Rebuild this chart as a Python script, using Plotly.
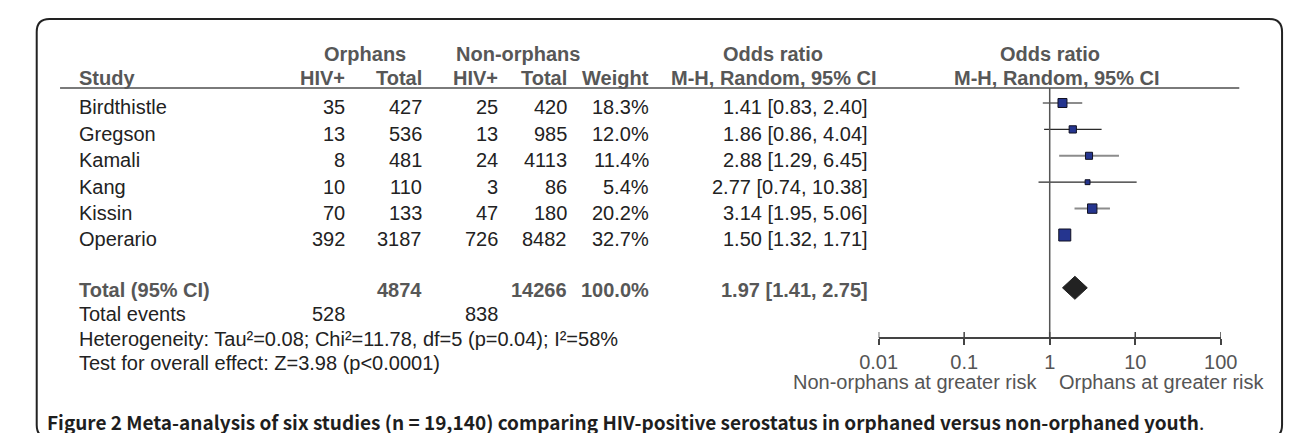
import plotly.graph_objects as go

W, H = 1293, 433

# ---------------- data ----------------
studies = ["Birdthistle", "Gregson", "Kamali", "Kang", "Kissin", "Operario"]
orph_hiv = [35, 13, 8, 10, 70, 392]
orph_total = [427, 536, 481, 110, 133, 3187]
non_hiv = [25, 13, 24, 3, 47, 726]
non_total = [420, 985, 4113, 86, 180, 8482]
weights = [18.3, 12.0, 11.4, 5.4, 20.2, 32.7]
odds = [1.41, 1.86, 2.88, 2.77, 3.14, 1.50]
ci_low = [0.83, 0.86, 1.29, 0.74, 1.95, 1.32]
ci_high = [2.40, 4.04, 6.45, 10.38, 5.06, 1.71]

pooled_or = 1.97
pooled_low = 1.41
pooled_high = 2.75
total_orph = 4874
total_non = 14266
total_weight = 100.0
events_orph = 528
events_non = 838
heterogeneity_text = "Heterogeneity: Tau²=0.08; Chi²=11.78, df=5 (p=0.04); I²=58%"
overall_text = "Test for overall effect: Z=3.98 (p<0.0001)"
axis_ticks = [0.01, 0.1, 1, 10, 100]
axis_tick_labels = ["0.01", "0.1", "1", "10", "100"]
left_side_label = "Non-orphans at greater risk"
right_side_label = "Orphans at greater risk"
caption_text = ("Figure 2 Meta-analysis of six studies (n = 19,140) comparing "
                "HIV-positive serostatus in orphaned versus non-orphaned youth")

# ---------------- layout helpers ----------------
ROW0 = 95.0      # pixel y of first study row (marker centre)
ROWH = 26.4      # pixel height of a row
TXT_OFF = 0.17   # text offset (rows) relative to markers
TOTAL_ROW = 7

FONT = "Liberation Sans, Arial, Helvetica, sans-serif"
HDR = "#575757"
BODY = "#222222"
FS = 20


def px(x):
    return x / W


def py(y):
    return 1 - y / H


annotations = []


def txt(x, y, text, anchor="right", color=BODY, size=FS, yref="y", family=FONT):
    annotations.append(dict(
        x=px(x), xref="paper", y=y if yref == "y" else py(y), yref=yref,
        text=text, showarrow=False, xanchor=anchor, yanchor="middle",
        font=dict(family=family, size=size, color=color), borderpad=0))


# column right edges (pixels)
C_STUDY = 52
C_OH, C_OT, C_NH, C_NT, C_W, C_CI = 328, 407, 486, 557, 641, 866

# header
txt(348, 46, "<b>Orphans</b>", "center", HDR, yref="paper")
txt(505, 46, "<b>Non-orphans</b>", "center", HDR, yref="paper")
txt(767, 46, "<b>Odds ratio</b>", "center", HDR, yref="paper")
txt(1052, 46, "<b>Odds ratio</b>", "center", HDR, yref="paper")
txt(C_STUDY, 70, "<b>Study</b>", "left", HDR, yref="paper")
txt(C_OH, 70, "<b>HIV+</b>", "right", HDR, yref="paper")
txt(C_OT, 70, "<b>Total</b>", "right", HDR, yref="paper")
txt(C_NH, 70, "<b>HIV+</b>", "right", HDR, yref="paper")
txt(C_NT, 70, "<b>Total</b>", "right", HDR, yref="paper")
txt(C_W, 70, "<b>Weight</b>", "right", HDR, yref="paper")
txt(875, 70, "<b>M-H, Random, 95% CI</b>", "right", HDR, yref="paper")
txt(1060, 70, "<b>M-H, Random, 95% CI</b>", "center", HDR, yref="paper")

# study rows
rows = list(range(len(studies)))
for i, s in enumerate(studies):
    y = i + TXT_OFF
    txt(C_STUDY, y, s, "left")
    txt(C_OH, y, str(orph_hiv[i]))
    txt(C_OT, y, str(orph_total[i]))
    txt(C_NH, y, str(non_hiv[i]))
    txt(C_NT, y, str(non_total[i]))
    txt(C_W, y, f"{weights[i]:.1f}%")
    txt(C_CI, y, f"{odds[i]:.2f} [{ci_low[i]:.2f}, {ci_high[i]:.2f}]")

# total row
yt = TOTAL_ROW + 0.08
txt(C_STUDY, yt, "<b>Total (95% CI)</b>", "left", HDR)
txt(C_OT, yt, f"<b>{total_orph}</b>", "right", HDR)
txt(C_NT, yt, f"<b>{total_non}</b>", "right", HDR)
txt(C_W, yt, f"<b>{total_weight:.1f}%</b>", "right", HDR)
txt(C_CI, yt, f"<b>{pooled_or:.2f} [{pooled_low:.2f}, {pooled_high:.2f}]</b>", "right", HDR)

# footer lines
txt(C_STUDY, 306, "Total events", "left", BODY, yref="paper")
txt(C_OH, 306, str(events_orph), "right", BODY, yref="paper")
txt(C_NH, 306, str(events_non), "right", BODY, yref="paper")
txt(C_STUDY, 331, heterogeneity_text, "left", BODY, yref="paper")
txt(C_STUDY, 355, overall_text, "left", BODY, yref="paper")

# favour labels
txt(1040, 374, left_side_label, "right", "#555555", yref="paper")
txt(1061, 374, right_side_label, "left", "#555555", yref="paper")

# caption
txt(20, 413, "<b>" + caption_text + "</b>.", "left", "#1e1e1e", size=19,
    yref="paper", family="Noto Sans CJK KR, Noto Sans, sans-serif")

# ---------------- traces ----------------
fig = go.Figure()

# CI lines (rendered alternately light / dark as in the source raster)
for parity, col, wid in [(0, "#8c8c8c", 2), (1, "#2a2a2a", 1.2)]:
    xs, ys = [], []
    for i in rows:
        if i % 2 == parity:
            xs += [ci_low[i], ci_high[i], None]
            ys += [i, i, None]
    fig.add_trace(go.Scatter(x=xs, y=ys, mode="lines",
                             line=dict(color=col, width=wid),
                             hoverinfo="skip"))

max_w = max(weights)
sizes = [12 * (w / max_w) ** 0.5 for w in weights]
fig.add_trace(go.Scatter(
    x=odds, y=rows, mode="markers",
    marker=dict(symbol="square", size=sizes, color="#25358f", opacity=1,
                line=dict(color="#111122", width=1)),
    hoverinfo="skip"))

dh = 11.5 / ROWH
fig.add_trace(go.Scatter(
    x=[pooled_low, pooled_or, pooled_high, pooled_or, pooled_low],
    y=[TOTAL_ROW, TOTAL_ROW - dh, TOTAL_ROW, TOTAL_ROW + dh, TOTAL_ROW],
    mode="lines", fill="toself", fillcolor="#222222",
    line=dict(color="#222222", width=1), hoverinfo="skip"))

# ---------------- shapes ----------------
AX_Y = 330
shapes = []
# header rule
shapes.append(dict(type="line", xref="paper", yref="paper",
                   x0=px(34), x1=px(1247), y0=py(80), y1=py(80),
                   line=dict(color="#7a7a7a", width=2)))
# line of no effect
shapes.append(dict(type="line", xref="x", yref="paper", x0=1, x1=1,
                   y0=py(80), y1=py(AX_Y), line=dict(color="#555555", width=1.5)))
# upper halves of the axis ticks
for t in axis_ticks:
    shapes.append(dict(type="line", xref="x", yref="paper", x0=t, x1=t,
                       y0=py(AX_Y), y1=py(AX_Y - 6),
                       line=dict(color="#444444", width=1.5)))

# rounded frame
x0, y0, x1, y1, r = 10, 11, 1291, 430, 13
pts = [
    ("M", x0 + r, y0), ("L", x1 - r, y0), ("Q", x1, y0, x1, y0 + r),
    ("L", x1, y1 - r), ("Q", x1, y1, x1 - r, y1), ("L", x0 + r, y1),
    ("Q", x0, y1, x0, y1 - r), ("L", x0, y0 + r), ("Q", x0, y0, x0 + r, y0),
]
path = ""
for p in pts:
    cmd = p[0]
    coords = p[1:]
    seg = []
    for k in range(0, len(coords), 2):
        seg.append(f"{px(coords[k]):.5f},{py(coords[k + 1]):.5f}")
    path += cmd + " " + " ".join(seg) + " "
path += "Z"
shapes.append(dict(type="path", xref="paper", yref="paper", path=path,
                   line=dict(color="#222222", width=2)))

fig.update_layout(
    width=W, height=H, margin=dict(l=0, r=0, t=0, b=0),
    paper_bgcolor="white", plot_bgcolor="rgba(0,0,0,0)",
    showlegend=False, hovermode=False,
    annotations=annotations, shapes=shapes,
    xaxis=dict(type="log", range=[-2, 2], domain=[px(876), px(1228)],
               anchor="free", position=py(AX_Y),
               showline=True, linecolor="#444444", linewidth=1.5,
               ticks="outside", ticklen=6, tickwidth=1.5, tickcolor="#444444",
               tickvals=axis_ticks, ticktext=axis_tick_labels,
               tickfont=dict(family=FONT, size=FS, color="#555555"),
               showgrid=False, zeroline=False, fixedrange=True),
    yaxis=dict(range=[(H - ROW0) / ROWH, -ROW0 / ROWH], domain=[0, 1],
               visible=False, fixedrange=True),
)

fig.write_html("out.html")
